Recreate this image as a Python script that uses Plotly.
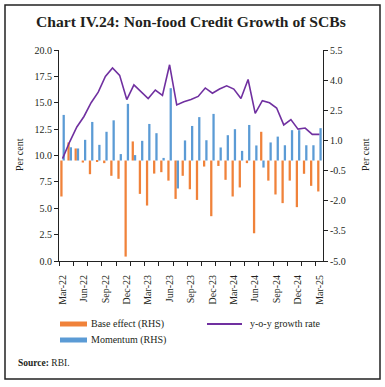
import plotly.graph_objects as go

months = ["Mar-22","Apr-22","May-22","Jun-22","Jul-22","Aug-22","Sep-22","Oct-22","Nov-22","Dec-22",
          "Jan-23","Feb-23","Mar-23","Apr-23","May-23","Jun-23","Jul-23","Aug-23","Sep-23","Oct-23",
          "Nov-23","Dec-23","Jan-24","Feb-24","Mar-24","Apr-24","May-24","Jun-24","Jul-24","Aug-24",
          "Sep-24","Oct-24","Nov-24","Dec-24","Jan-25","Feb-25","Mar-25"]

yoy_growth = [9.7, 11.3, 12.7, 13.7, 15.0, 16.0, 17.5, 18.3, 17.6, 15.3,
              16.7, 16.0, 15.4, 16.2, 15.7, 18.6, 14.8, 15.1, 15.3, 15.6,
              16.4, 15.9, 16.3, 16.6, 16.3, 15.4, 17.2, 14.0, 15.2, 15.0,
              14.5, 12.9, 13.4, 12.5, 12.6, 12.0, 12.0]

base_effect = [-1.79, 0.90, 0.60, -0.10, -0.68, -0.03, -0.13, -0.76, -0.91, -4.78,
               0.95, -1.66, -2.24, -0.65, -0.58, -1.00, -1.91, -0.76, -1.43, -1.96,
               -0.30, -2.77, -0.27, -0.96, -1.79, -1.34, -0.13, -3.62, 1.43, -1.00,
               -1.69, -2.12, -1.00, -2.32, -0.66, -1.26, -1.54]

momentum = [2.27, 0.66, 0.60, 1.03, 1.92, 0.78, 1.43, 2.00, 0.32, 2.82,
            0.27, 0.98, 1.82, 1.36, 0.13, 3.60, -1.39, 1.00, 1.72, 2.16,
            1.01, 2.32, 0.65, 1.26, 1.56, 0.48, 1.77, 0.75, -0.35, 0.90,
            1.19, 0.76, 1.51, 1.51, 0.76, 0.76, 1.61]

left_ticks = [0.0, 2.5, 5.0, 7.5, 10.0, 12.5, 15.0, 17.5, 20.0]
right_ticks = [-5.0, -3.5, -2.0, -0.5, 1.0, 2.5, 4.0, 5.5]

ORANGE = "#F0823A"
BLUE = "#5B9BD5"
PURPLE = "#7030A0"
FONT = "Liberation Serif"
TXT = "#231F20"

x = list(range(len(months)))

fig = go.Figure()
fig.add_trace(go.Bar(x=x, y=base_effect, name="Base effect (RHS)", marker_color=ORANGE,
                     width=0.32, offset=-0.32, yaxis="y", marker_line_width=0))
fig.add_trace(go.Bar(x=x, y=momentum, name="Momentum (RHS)", marker_color=BLUE,
                     width=0.32, offset=0.0, yaxis="y", marker_line_width=0))
fig.add_trace(go.Scatter(x=x, y=yoy_growth, name="y-o-y growth rate", mode="lines",
                         line=dict(color=PURPLE, width=1.6), yaxis="y2"))

tick_idx = list(range(0, len(months), 3))

def fmt(v):
    return f"{v:.1f}".replace("\u2212", "-")

fig.update_layout(
    width=385, height=387,
    margin=dict(l=59, r=62, t=50, b=126),
    paper_bgcolor="white", plot_bgcolor="white",
    showlegend=False,
    barmode="overlay",
    font=dict(family=FONT, size=10, color=TXT),
    xaxis=dict(range=[-0.5, 36.5], tickmode="array", tickvals=tick_idx,
               ticktext=[months[i] for i in tick_idx], tickangle=-90,
               ticks="outside", ticklen=9, tickcolor="rgba(0,0,0,0)",
               showline=True, linecolor="#222", linewidth=1, showgrid=False, zeroline=False,
               tickfont=dict(family=FONT, size=10, color=TXT),
               minor=dict(tickmode="array", tickvals=[-0.5 + 2 * k for k in range(19)],
                          ticks="outside", ticklen=4, tickcolor="#222", showgrid=False)),
    yaxis=dict(side="right", range=[-5, 5.5], tickmode="array", tickvals=right_ticks,
               ticktext=[fmt(v) for v in right_ticks], ticks="outside", ticklen=4,
               tickcolor="#222", showline=True, linecolor="#222", linewidth=1,
               showgrid=False, zeroline=False, tickfont=dict(family=FONT, size=10, color=TXT)),
    yaxis2=dict(overlaying="y", side="left", range=[0, 20], tickmode="array",
                tickvals=left_ticks, ticktext=[fmt(v) for v in left_ticks],
                ticks="outside", ticklen=4, tickcolor="#222", showline=True,
                linecolor="#222", linewidth=1, showgrid=False, zeroline=False,
                tickfont=dict(family=FONT, size=10, color=TXT)),
)

def px_x(px):
    return (px - 59) / 264

def px_y(py):
    return (261 - py) / 211

shapes = [
    dict(type="rect", xref="paper", yref="paper", x0=px_x(5), x1=px_x(380), y0=px_y(379), y1=px_y(5),
         line=dict(color="#222", width=1.5), fillcolor="rgba(0,0,0,0)", layer="below"),
    dict(type="rect", xref="paper", yref="paper", x0=px_x(60), x1=px_x(87), y0=px_y(326.5), y1=px_y(321.5),
         line=dict(width=0), fillcolor=ORANGE),
    dict(type="rect", xref="paper", yref="paper", x0=px_x(60), x1=px_x(87), y0=px_y(342.5), y1=px_y(337.5),
         line=dict(width=0), fillcolor=BLUE),
    dict(type="line", xref="paper", yref="paper", x0=px_x(207), x1=px_x(242), y0=px_y(324), y1=px_y(324),
         line=dict(color=PURPLE, width=1.8)),
]

annotations = [
    dict(text="<b>Chart IV.24: Non-food Credit Growth of SCBs</b>", x=px_x(191), y=px_y(22),
         xanchor="center", yanchor="middle", font=dict(family=FONT, size=15.6, color=TXT)),
    dict(text="Per cent", x=px_x(19), y=px_y(155), textangle=-90, xanchor="center", yanchor="middle",
         font=dict(family=FONT, size=10, color=TXT)),
    dict(text="Per cent", x=px_x(365), y=px_y(155), textangle=-90, xanchor="center", yanchor="middle",
         font=dict(family=FONT, size=10, color=TXT)),
    dict(text="Base effect (RHS)", x=px_x(89), y=px_y(324), xanchor="left", yanchor="middle",
         font=dict(family=FONT, size=10, color=TXT)),
    dict(text="Momentum (RHS)", x=px_x(89), y=px_y(340), xanchor="left", yanchor="middle",
         font=dict(family=FONT, size=10, color=TXT)),
    dict(text="y-o-y growth rate", x=px_x(248), y=px_y(324), xanchor="left", yanchor="middle",
         font=dict(family=FONT, size=10, color=TXT)),
    dict(text="<b>Source:</b> RBI.", x=px_x(16), y=px_y(363), xanchor="left", yanchor="middle",
         font=dict(family=FONT, size=9.5, color=TXT)),
]
for a in annotations:
    a.update(xref="paper", yref="paper", showarrow=False)

fig.update_layout(shapes=shapes, annotations=annotations)
fig.write_html("out.html", config={"displayModeBar": False},
               post_script="document.body.style.margin='0';document.body.style.overflow='hidden';")
